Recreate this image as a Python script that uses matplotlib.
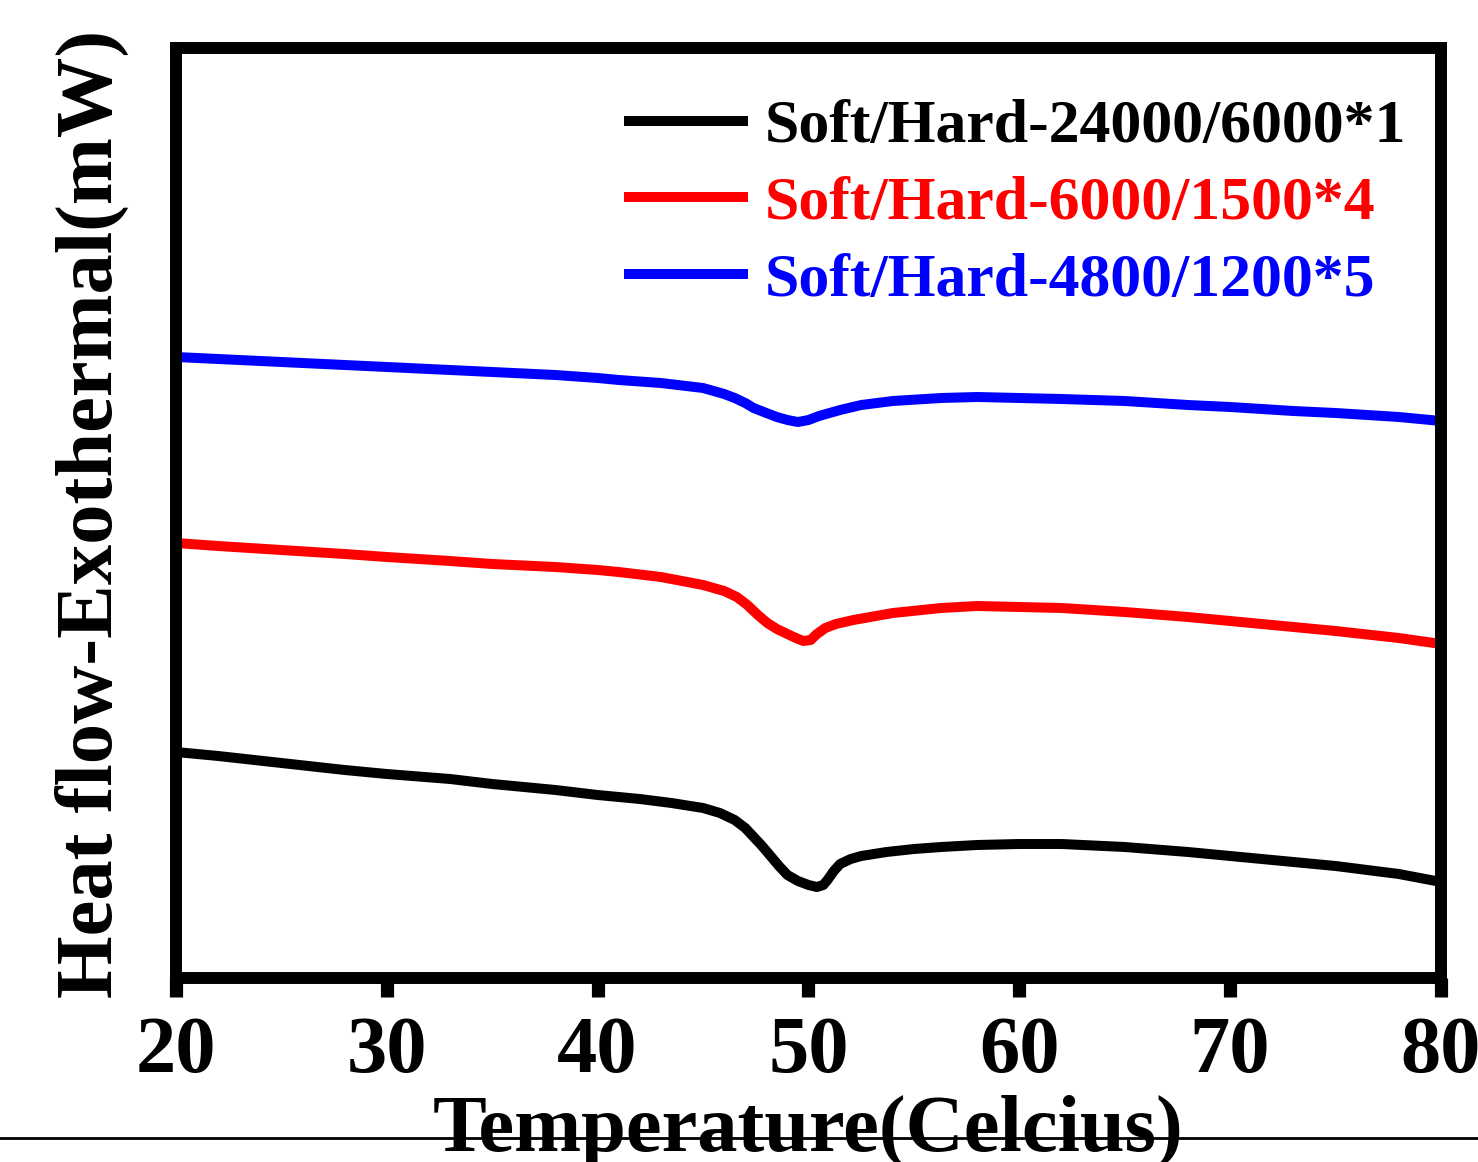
import matplotlib
matplotlib.use("Agg")
import matplotlib.pyplot as plt
from matplotlib.lines import Line2D

plt.rcParams['font.family'] = ['Liberation Serif', 'DejaVu Serif']
plt.rcParams['font.weight'] = 'bold'

# Temperature (Celcius)
x_black = [20, 22, 25, 28, 30, 33, 35, 38, 40, 42, 43.5, 45, 45.8, 46.5, 47.0, 47.4, 47.8, 48.2, 48.6,
           49.0, 49.5, 50.0, 50.4, 50.7, 50.9, 51.2, 51.5, 52.0, 52.5, 53.7, 55, 56.3, 58, 60, 62, 65,
           68, 70, 73, 75, 78, 80]
y_black = [2.26, 2.22, 2.15, 2.08, 2.04, 1.99, 1.94, 1.88, 1.83, 1.79, 1.75, 1.70, 1.65, 1.58, 1.50,
           1.41, 1.32, 1.22, 1.12, 1.03, 0.97, 0.93, 0.91, 0.93, 0.98, 1.07, 1.14, 1.19, 1.22, 1.26,
           1.29, 1.31, 1.33, 1.34, 1.34, 1.31, 1.26, 1.22, 1.16, 1.12, 1.04, 0.96]

x_red = [20, 22, 25, 28, 30, 33, 35, 38, 40, 41, 43, 45, 46, 46.6, 47.1, 47.6, 48.05, 48.5, 49, 49.4,
         49.76, 50.1, 50.4, 50.8, 51.3, 52.13, 54, 56.3, 58, 60, 62, 65, 68, 70, 73, 75, 78, 80]
y_red = [4.35, 4.32, 4.28, 4.24, 4.21, 4.17, 4.14, 4.11, 4.08, 4.06, 4.01, 3.93, 3.87, 3.81, 3.73, 3.63,
         3.55, 3.49, 3.44, 3.40, 3.37, 3.38, 3.44, 3.50, 3.54, 3.58, 3.65, 3.70, 3.72, 3.71, 3.70, 3.66,
         3.61, 3.57, 3.51, 3.47, 3.40, 3.34]

x_blue = [20, 22, 25, 28, 30, 33, 35, 38, 40, 41, 43, 45, 46.0, 46.5, 47.0, 47.4, 48.0, 48.5, 49.0,
          49.5, 50.0, 50.5, 51.5, 52.5, 54, 56.3, 58, 60, 62, 65, 68, 70, 73, 75, 78, 80]
y_blue = [6.21, 6.19, 6.16, 6.13, 6.11, 6.08, 6.06, 6.03, 6.00, 5.98, 5.95, 5.90, 5.84, 5.80, 5.75,
          5.70, 5.65, 5.61, 5.58, 5.56, 5.58, 5.62, 5.68, 5.73, 5.77, 5.80, 5.81, 5.80, 5.79, 5.77,
          5.73, 5.71, 5.67, 5.65, 5.61, 5.57]

labels = ["Soft/Hard-24000/6000*1", "Soft/Hard-6000/1500*4", "Soft/Hard-4800/1200*5"]
colors = ["#000000", "#ff0000", "#0000ff"]
xticks = [20, 30, 40, 50, 60, 70, 80]

W, H = 1478, 1162
fig = plt.figure(figsize=(W / 100, H / 100), dpi=100)
ax = fig.add_axes([176 / W, 1 - 978 / H, (1441 - 176) / W, (978 - 48) / H])

for xs, ys, c, lab in zip([x_black, x_red, x_blue], [y_black, y_red, y_blue], colors, labels):
    ax.plot(xs, ys, color=c, lw=7.2, label=lab, solid_joinstyle='round', solid_capstyle='butt')

ax.set_xlim(20, 80)
ax.set_ylim(0, 9.30)
ax.set_xticks(xticks)
ax.set_xticklabels([str(t) for t in xticks])
ax.set_yticks([])
for s in ax.spines.values():
    s.set_linewidth(8.6)
ax.tick_params(axis='x', direction='out', length=13.5, width=9.5, labelsize=58, pad=14)
for lbl in ax.get_xticklabels():
    lbl.set_fontweight('bold')

ax.set_xlabel("Temperature(Celcius)", fontsize=58, fontweight='bold', labelpad=4)
fig.text(92 / W, 1 - 514 / H, "Heat flow-Exothermal(mW)", rotation=90, fontsize=58,
         fontweight='bold', ha='center', va='center')

leg = ax.legend(loc='upper left', bbox_to_anchor=(624 / W, 1 - 99 / H), bbox_transform=fig.transFigure,
                frameon=False, handlelength=2.0, handletextpad=0.27, labelspacing=0.33,
                borderpad=0, borderaxespad=0, labelcolor='linecolor', prop={'weight': 'bold', 'size': 44.5})

fig.add_artist(Line2D([0, 1], [1 - 1138 / H, 1 - 1138 / H], transform=fig.transFigure, color='black', lw=2))

fig.savefig("out.png", dpi=100)
